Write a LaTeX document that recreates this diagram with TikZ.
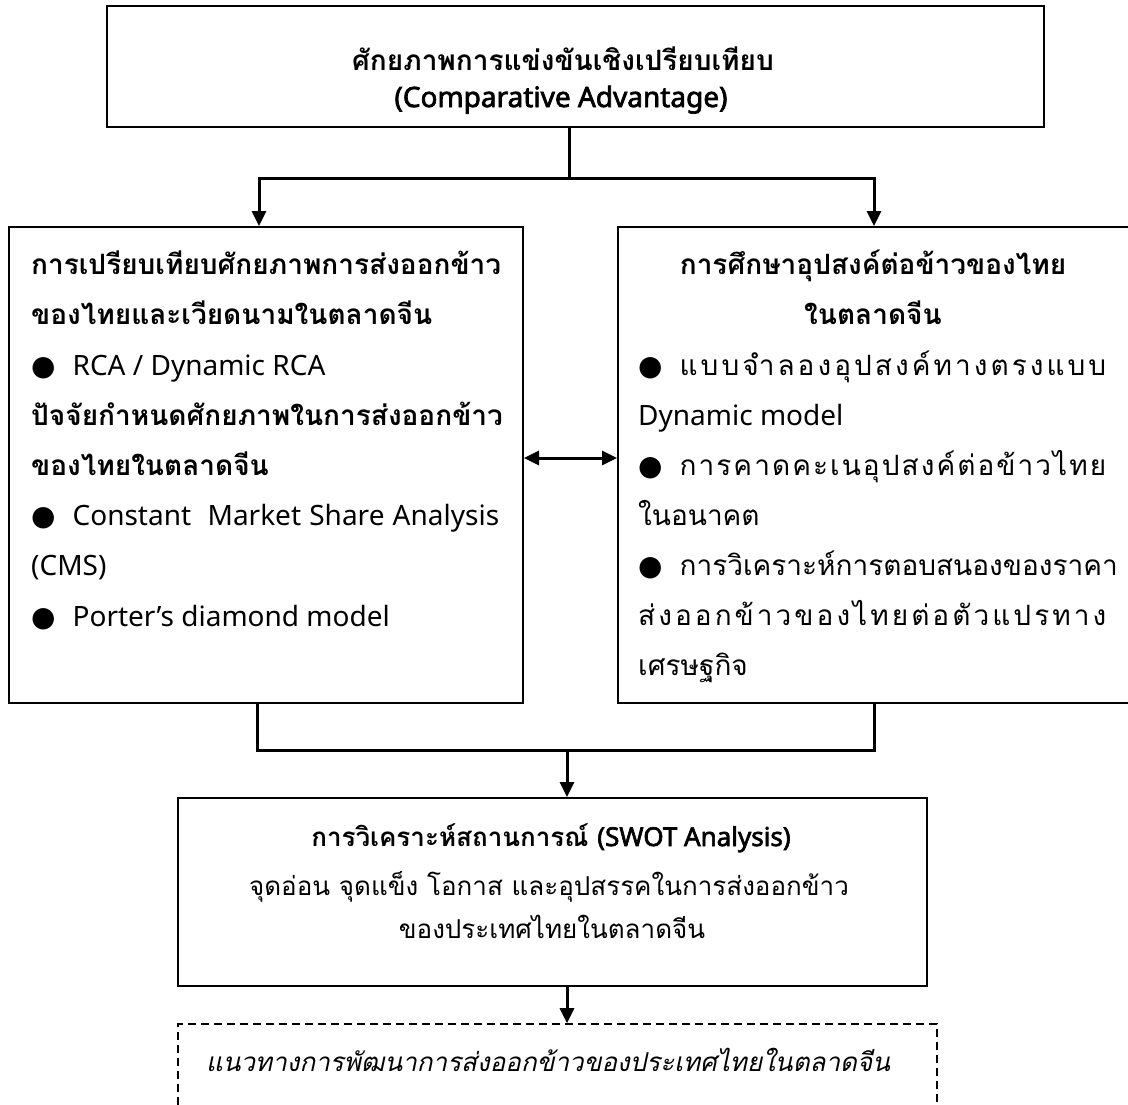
\documentclass[tikz,border=0pt]{standalone}
\usepackage{fontspec}
\setmainfont[Script=Thai]{Loma}
\newfontfamily\dv{DejaVu Sans}
\newfontfamily\latf{Noto Sans}
\newfontfamily\latfb[FakeBold=2.5]{Noto Sans}
\usetikzlibrary{arrows.meta,calc}
\newcommand\bul{{\dv\fontsize{28}{28}\selectfont ●}\hspace{17pt}}
\newcommand\jl[2]{\hbox to #1pt{#2}}
\newcommand\la[1]{{\latf #1}}
\newcommand\lab[1]{{\latfb #1}}
\begin{document}
\begin{tikzpicture}[x=1pt,y=-1pt,
  box/.style={draw, line width=2pt, inner sep=0pt},
  dbox/.style={draw, line width=1.6pt, dash pattern=on 8pt off 5pt, inner sep=0pt},
  ln/.style={line width=3pt},
  arr/.style={line width=3pt, -{Triangle[length=15pt,width=14pt]}},
  darr/.style={line width=3pt, {Triangle[length=15pt,width=14pt]}-{Triangle[length=15pt,width=14pt]}},
  tx/.style={inner sep=0pt, anchor=base west, font=\fontsize{28}{34}\selectfont},
  ctx/.style={inner sep=0pt, anchor=base, font=\fontsize{28}{34}\selectfont},
  stx/.style={inner sep=0pt, anchor=base, font=\fontsize{26}{32}\selectfont}]
\useasboundingbox (0,0) rectangle (1128,1104);
% boxes
\node[box, minimum width=937pt, minimum height=121pt] (T) at (575.5,66.5) {};
\node[box, minimum width=514pt, minimum height=476pt] (L) at (266,465) {};
\node[box, minimum width=512pt, minimum height=476pt] (R) at (874,465) {};
\node[box, minimum width=749pt, minimum height=188pt] (S) at (552.5,892) {};
\node[dbox, minimum width=759pt, minimum height=86pt] (D) at (557.5,1067) {};
% top text
\node[ctx] (t1) at (563,70) {\bfseries ศักยภาพการแข่งขันเชิงเปรียบเทียบ};
\node[ctx] (t2) at (561,107) {\lab{(Comparative Advantage)}};
% left text
\node[tx] (l1) at (31,274) {\bfseries การเปรียบเทียบศักยภาพการส่งออกข้าว};
\node[tx] (l2) at (31,324) {\bfseries ของไทยและเวียดนามในตลาดจีน};
\node[tx] (l3) at (31,375) {\bul\la{RCA / Dynamic RCA}};
\node[tx] (l4) at (31,425) {\bfseries ปัจจัยกำหนดศักยภาพในการส่งออกข้าว};
\node[tx] (l5) at (31,475) {\bfseries ของไทยในตลาดจีน};
\node[tx] (l6) at (31,525) {\jl{468}{\bul\la{Constant}\hfil\hfil\la{Market}\hfil\la{Share}\hfil\la{Analysis}}};
\node[tx] (l7) at (31,575) {\la{(CMS)}};
\node[tx] (l8) at (31,626) {\bul\la{Porter’s diamond model}};
% right text
\node[ctx] (r1) at (873,274) {\bfseries การศึกษาอุปสงค์ต่อข้าวของไทย};
\node[ctx] (r2) at (873,324) {\bfseries ในตลาดจีน};
\node[tx] (r3) at (638,375) {\jl{468}{\bul แ\hfil บ\hfil บ\hfil จำ\hfil ล\hfil อ\hfil ง\hfil อุ\hfil ป\hfil ส\hfil ง\hfil ค์\hfil ท\hfil า\hfil ง\hfil ต\hfil ร\hfil ง\hfil แ\hfil บ\hfil บ}};
\node[tx] (r4) at (638,425) {\la{Dynamic model}};
\node[tx] (r5) at (638,475) {\jl{468}{\bul ก\hfil า\hfil ร\hfil ค\hfil า\hfil ด\hfil ค\hfil ะ\hfil เ\hfil น\hfil อุ\hfil ป\hfil ส\hfil ง\hfil ค์\hfil ต่\hfil อ\hfil ข้\hfil า\hfil ว\hfil ไ\hfil ท\hfil ย}};
\node[tx] (r6) at (638,525) {ในอนาคต};
\node[tx] (r7) at (638,575) {\jl{468}{\bul ก\hfil า\hfil ร\hfil วิ\hfil เ\hfil ค\hfil ร\hfil า\hfil ะ\hfil ห์\hfil ก\hfil า\hfil ร\hfil ต\hfil อ\hfil บ\hfil ส\hfil น\hfil อ\hfil ง\hfil ข\hfil อ\hfil ง\hfil ร\hfil า\hfil ค\hfil า}};
\node[tx] (r8) at (638,625) {\jl{468}{ส่\hfil ง\hfil อ\hfil อ\hfil ก\hfil ข้\hfil า\hfil ว\hfil ข\hfil อ\hfil ง\hfil ไ\hfil ท\hfil ย\hfil ต่\hfil อ\hfil ตั\hfil ว\hfil แ\hfil ป\hfil ร\hfil ท\hfil า\hfil ง}};
\node[tx] (r9) at (638,675) {เศรษฐกิจ};
% swot text
\node[stx] (s1) at (551,846) {\bfseries การวิเคราะห์สถานการณ์ \lab{(SWOT Analysis)}};
\node[stx] (s2) at (549,895) {จุดอ่อน จุดแข็ง โอกาส และอุปสรรคในการส่งออกข้าว};
\node[stx] (s3) at (552,938) {ของประเทศไทยในตลาดจีน};
% dashed text
\node[stx] (d1) at (548,1071) {\itshape แนวทางการพัฒนาการส่งออกข้าวของประเทศไทยในตลาดจีน};
% connectors
\coordinate (j1) at (569,178);
\coordinate (j2) at (567,750);
\draw[ln] (T.south -| j1) -- (j1);
\draw[arr] (j1) -| ([xshift=-7pt]L.north);
\draw[arr] (j1) -| (R.north);
\draw[darr] ([yshift=7pt]L.east) -- ([yshift=7pt]R.west);
\draw[ln] ([xshift=-9pt]L.south) |- (j2) -| (R.south);
\draw[arr] (j2) -- (S.north -| j2);
\draw[arr] (S.south -| j2) -- (D.north -| j2);
\end{tikzpicture}
\end{document}
